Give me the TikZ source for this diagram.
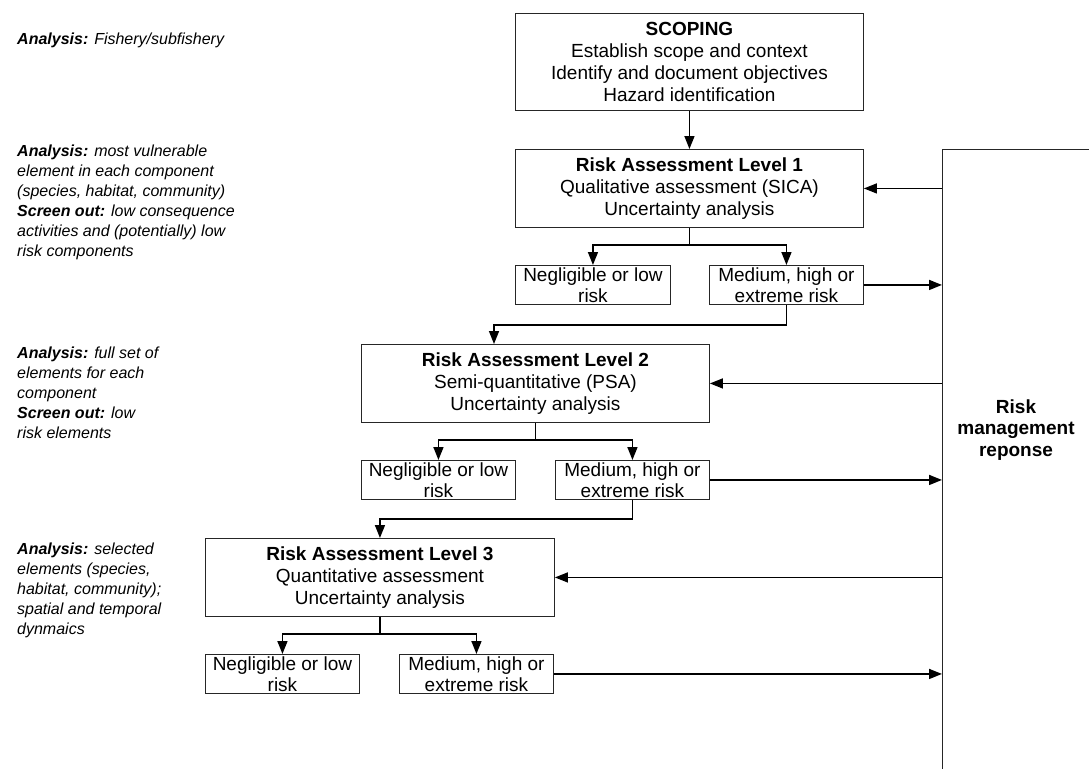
\documentclass[tikz,border=0pt]{standalone}
\usepackage{fontspec}
\setmainfont{Liberation Sans}
\usetikzlibrary{arrows.meta,calc}
\begin{document}
\begin{tikzpicture}[x=1pt,y=-1pt,
  box/.style={draw=black!85, line width=0.9pt, inner sep=0pt, align=center, anchor=north west, font=\fontsize{19}{22}\selectfont},
  small/.style={box, font=\fontsize{19}{21}\selectfont, minimum width=155pt, minimum height=39pt},
  big/.style={box, minimum width=348pt, minimum height=78pt},
  note/.style={anchor=north west, inner sep=0pt, align=left, font=\fontsize{16}{20}\selectfont\itshape},
  conn/.style={line width=1.5pt},
  arr/.style={conn, -{Triangle[length=13pt,width=10pt]}}]
\useasboundingbox (0,0) rectangle (1089,768);
\clip (0,0) rectangle (1089,768);

% right box
\node[draw=black!85, line width=0.9pt, anchor=north west, minimum width=300pt, minimum height=800pt] (rm) at (942,149) {};
\node[font=\fontsize{19}{21.5}\selectfont\bfseries, align=center] (rml) at (1016,430) {Risk\\management\\reponse};

% main boxes
\node[box, minimum width=348pt, minimum height=97pt] (scope) at (515,13)
  {\textbf{SCOPING}\\Establish scope and context\\Identify and document objectives\\Hazard identification};
\node[big] (r1) at (515,149) {\textbf{Risk Assessment Level 1}\\Qualitative assessment (SICA)\\Uncertainty analysis};
\node[small] (n1) at (515,265) {Negligible or low\\risk};
\node[small, minimum width=154pt] (m1) at (709,265) {Medium, high or\\extreme risk};

\node[big] (r2) at (361,344) {\textbf{Risk Assessment Level 2}\\Semi-quantitative (PSA)\\Uncertainty analysis};
\node[small, minimum width=154pt] (n2) at (361,460) {Negligible or low\\risk};
\node[small, minimum width=154pt] (m2) at (555,460) {Medium, high or\\extreme risk};

\node[big, minimum width=349pt] (r3) at (205,538) {\textbf{Risk Assessment Level 3}\\Quantitative assessment\\Uncertainty analysis};
\node[small, minimum width=154pt] (n3) at (205,654) {Negligible or low\\risk};
\node[small, minimum width=154pt] (m3) at (399,654) {Medium, high or\\extreme risk};

% notes
\node[note] (t1) at (17,33) {\textbf{Analysis:} Fishery/subfishery};
\node[note] (t2) at (17,145) {\textbf{Analysis:} most vulnerable\\element in each component\\(species, habitat, community)\\\textbf{Screen out:} low consequence\\activities and (potentially) low\\risk components};
\node[note] (t3) at (17,347) {\textbf{Analysis:} full set of\\elements for each\\component\\\textbf{Screen out:} low\\risk elements};
\node[note] (t4) at (17,543) {\textbf{Analysis:} selected\\elements (species,\\habitat, community);\\spatial and temporal\\dynmaics};

% connectors
\draw[arr] (scope) -- (r1);

\draw[conn] (r1.south) -- ++(0,17) coordinate (s1);
\draw[arr] (s1) -| (n1.north);
\draw[arr] (s1) -| (m1.north);

\draw[conn] (r2.south) -- ++(0,17) coordinate (s2);
\draw[arr] (s2) -| (n2.north);
\draw[arr] (s2) -| (m2.north);

\draw[conn] (r3.south) -- ++(0,17) coordinate (s3);
\draw[arr] (s3) -| (n3.north);
\draw[arr] (s3) -| (m3.north);

\coordinate (r2in) at ($(r2.north west)+(133,0)$);
\draw[arr] (m1.south) -- ++(0,20) -| (r2in);
\draw[arr] (m2.south) -- ++(0,19) -| (r3.north);

\draw[arr] (rm.west |- r1.east) -- (r1.east);
\draw[arr] (rm.west |- r2.east) -- (r2.east);
\draw[arr] (rm.west |- r3.east) -- (r3.east);

\draw[arr] (m1.east) -- (rm.west |- m1.east);
\draw[arr] (m2.east) -- (rm.west |- m2.east);
\draw[arr] (m3.east) -- (rm.west |- m3.east);
\end{tikzpicture}
\end{document}
